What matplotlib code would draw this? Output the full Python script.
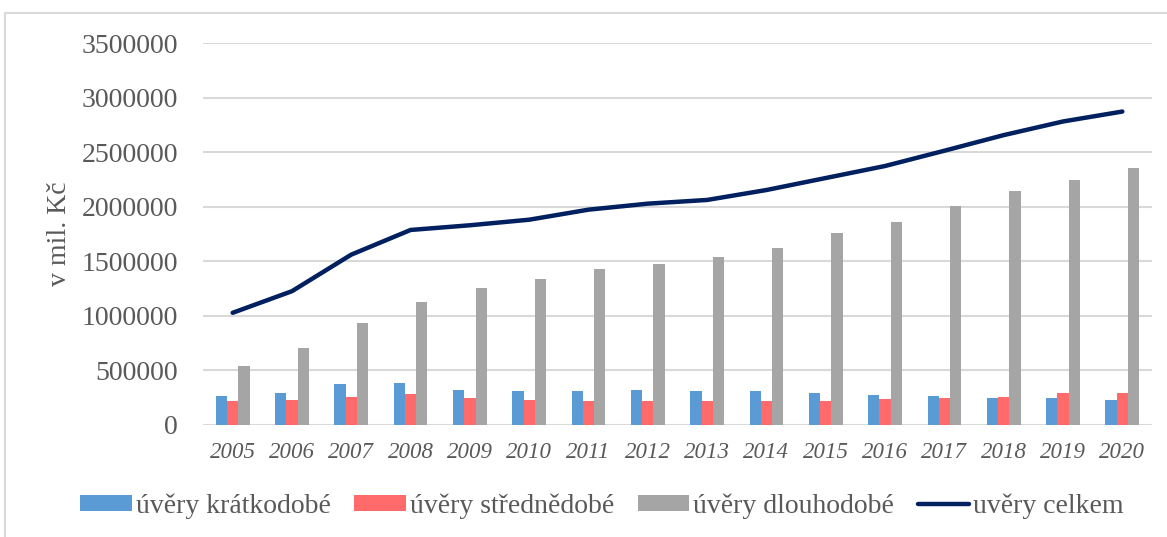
import numpy as np
import matplotlib
matplotlib.use('Agg')
import matplotlib.pyplot as plt
from matplotlib.patches import Rectangle

plt.rcParams['font.family'] = ['Liberation Serif', 'DejaVu Serif']

# data (mil. Kč)
years = ['2005', '2006', '2007', '2008', '2009', '2010', '2011', '2012',
         '2013', '2014', '2015', '2016', '2017', '2018', '2019', '2020']
kratkodobe = [268000, 293000, 375000, 382000, 321000, 312000, 314000, 321000,
              309000, 309000, 293000, 275000, 263000, 250000, 247000, 229000]
strednedobe = [220000, 229000, 259000, 284000, 247000, 229000, 223000, 223000,
               220000, 220000, 220000, 238000, 245000, 259000, 290000, 293000]
dlouhodobe = [540000, 704000, 930000, 1125000, 1257000, 1342000, 1430000, 1479000,
              1537000, 1623000, 1760000, 1863000, 2003000, 2147000, 2248000, 2358000]
celkem = [1028000, 1226000, 1561000, 1787000, 1830000, 1881000, 1973000, 2028000,
          2062000, 2153000, 2263000, 2373000, 2513000, 2656000, 2781000, 2872000]

tick_color = '#595959'
grid_color = '#D9D9D9'

fig = plt.figure(figsize=(11.67, 5.37), dpi=100)
ax = fig.add_axes([203 / 1167, 1 - 425 / 537, (1152 - 203) / 1167, (425 - 43) / 537])

x = np.arange(len(years))
w = 0.19
b1 = ax.bar(x - w, kratkodobe, w, color='#5B9BD5', label='úvěry krátkodobé', zorder=2)
b2 = ax.bar(x, strednedobe, w, color='#FF6B6B', label='úvěry střednědobé', zorder=2)
b3 = ax.bar(x + w, dlouhodobe, w, color='#A5A5A5', label='úvěry dlouhodobé', zorder=2)
ln, = ax.plot(x, celkem, color='#002060', lw=3.2, solid_capstyle='round',
              solid_joinstyle='round', label='uvěry celkem', zorder=3)

ax.set_xlim(-0.5, len(years) - 0.5)
ax.set_ylim(0, 3500000)
ax.set_yticks(np.arange(0, 3500001, 500000))
ax.set_yticklabels([str(v) for v in range(0, 3500001, 500000)])
ax.set_xticks(x)
ax.set_xticklabels(years, fontstyle='italic')
ax.tick_params(axis='y', length=0, pad=18, labelsize=20, labelcolor=tick_color)
ax.tick_params(axis='x', length=0, pad=12, labelsize=16.5, labelcolor=tick_color)
ax.grid(axis='y', color=grid_color, lw=1.5, zorder=0)
for s in ax.spines.values():
    s.set_visible(False)

ax.set_ylabel('v mil. Kč', fontsize=20, color=tick_color)
ax.yaxis.set_label_coords(-(203 - 72) / (1152 - 203), 0.5)

leg = fig.legend([b1, b2, b3, ln], [h.get_label() for h in (b1, b2, b3, ln)],
                 loc='center', bbox_to_anchor=(602 / 1167, 1 - 506 / 537), ncol=4,
                 frameon=False, fontsize=20, handlelength=1.85, handleheight=0.55,
                 handletextpad=0.15, columnspacing=0.85, labelcolor=tick_color)

# outer chart border
fig.patches.append(Rectangle((5 / 1167, -0.05), 1.2, 1 - 13 / 537 + 0.05,
                             transform=fig.transFigure, fill=False,
                             edgecolor=grid_color, lw=1.5))

fig.savefig('out.png', dpi=100)
